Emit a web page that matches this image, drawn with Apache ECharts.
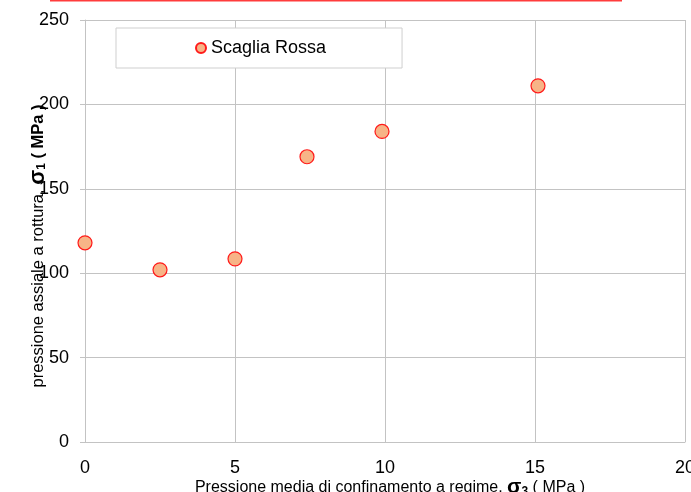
<!DOCTYPE html>
<html>
<head>
<meta charset="utf-8">
<script src="https://cdn.jsdelivr.net/npm/echarts@6/dist/echarts.min.js"></script>
<style>
html,body{margin:0;padding:0;background:#fff;}
#c{width:691px;height:492px;}
</style>
</head>
<body>
<div id="c"></div>
<script>
var seriesName = 'Scaglia Rossa';
var sigma3 = [0, 2.5, 5, 7.4, 9.9, 15.1];
var sigma1 = [118, 102, 108.5, 169, 184, 211];
var xTicks = [0, 5, 10, 15, 20];
var yTicks = [0, 50, 100, 150, 200, 250];

var pts = sigma3.map(function (x, i) { return [x, sigma1[i]]; });
var gridColor = '#c3c3c3';
var font = 'Liberation Sans, Arial, sans-serif';

var chart = echarts.init(document.getElementById('c'), null, {renderer: 'canvas'});
chart.setOption({
  animation: false,
  backgroundColor: '#fff',
  textStyle: {fontFamily: font},
  grid: {left: 85, right: 6, top: 20, bottom: 50, containLabel: false, outerBoundsMode: 'none'},
  legend: {
    left: 116, top: 28,
    padding: [11, 76, 11, 79],
    backgroundColor: '#fff',
    borderColor: '#cfcfcf', borderWidth: 1,
    icon: 'circle', itemWidth: 10, itemHeight: 10,
    textStyle: {fontSize: 18, color: '#000', fontFamily: font},
    data: [seriesName]
  },
  xAxis: {
    type: 'value', min: xTicks[0], max: xTicks[xTicks.length - 1], interval: 5,
    axisLine: {show: true, lineStyle: {color: gridColor}},
    axisTick: {show: false},
    splitLine: {show: true, lineStyle: {color: gridColor}},
    axisLabel: {fontSize: 18, color: '#000', margin: 17, fontFamily: font, showMaxLabel: true},
    name: 'Pressione media di confinamento a regime, {s|σ}{sub|3}{n| ( MPa )}',
    nameLocation: 'middle', nameGap: 35, nameMoveOverlap: false,
    nameTextStyle: {
      fontSize: 16, color: '#000', fontFamily: font, padding: [0, 0, 0, 10],
      rich: {
        s: {fontSize: 21, fontWeight: 'bold', color: '#000', fontFamily: font},
        sub: {fontSize: 12, fontWeight: 'bold', color: '#000', fontFamily: font, padding: [8, 0, 0, 0]},
        n: {fontSize: 16, color: '#000', fontFamily: font}
      }
    }
  },
  yAxis: {
    type: 'value', min: yTicks[0], max: yTicks[yTicks.length - 1], interval: 50,
    axisLine: {show: true, lineStyle: {color: gridColor}},
    axisTick: {show: true, length: 5, lineStyle: {color: gridColor}},
    splitLine: {show: true, lineStyle: {color: gridColor}},
    axisLabel: {fontSize: 18, color: '#000', margin: 16, fontFamily: font},
    name: 'pressione assiale a rottura, {s|σ}{sub|1}{b| ( MPa )}',
    nameLocation: 'middle', nameGap: 36, nameRotate: 90, nameMoveOverlap: false,
    nameTextStyle: {
      fontSize: 16.5, color: '#000', fontFamily: font,
      padding: [0, 30, 0, 0],
      rich: {
        s: {fontSize: 22, fontWeight: 'bold', color: '#000', fontFamily: font},
        sub: {fontSize: 12, fontWeight: 'bold', color: '#000', fontFamily: font, padding: [8, 0, 0, 0]},
        b: {fontSize: 16.5, fontWeight: 'bold', color: '#000', fontFamily: font}
      }
    }
  },
  graphic: [{
    type: 'line', silent: true,
    shape: {x1: 50, y1: 0.5, x2: 622, y2: 0.5},
    style: {stroke: '#ff3c3c', lineWidth: 2}
  }],
  series: [{
    name: seriesName,
    type: 'scatter',
    data: pts,
    symbol: 'circle',
    symbolSize: 14,
    clip: false,
    itemStyle: {color: '#F7B487', borderColor: '#FF1A1A', borderWidth: 1.2, opacity: 1}
  }]
});
</script>
</body>
</html>
